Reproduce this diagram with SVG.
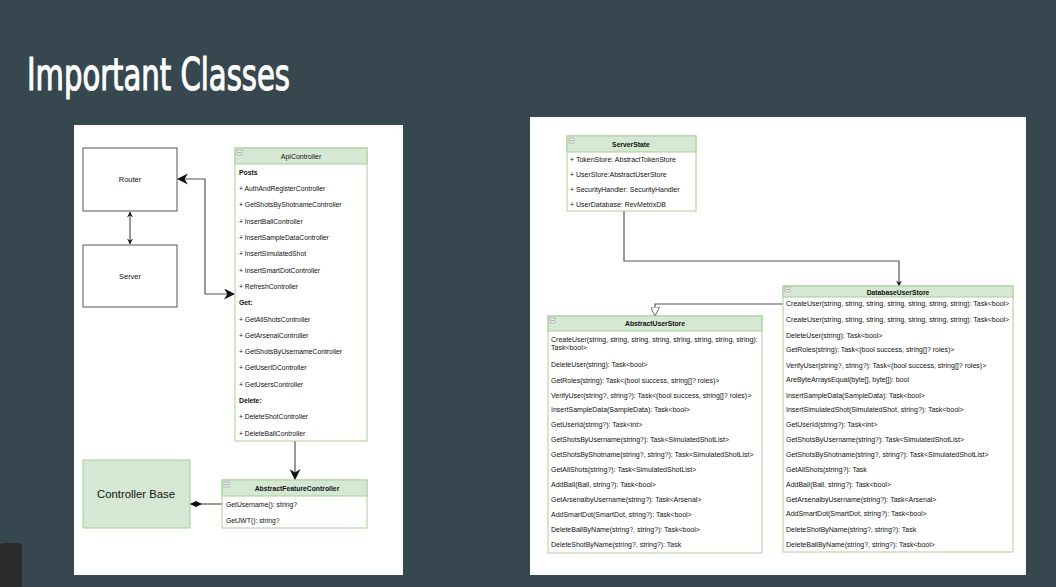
<svg xmlns="http://www.w3.org/2000/svg" width="1056" height="587" viewBox="0 0 1056 587">
<defs>
<style>
.t{font-family:"Liberation Sans",Arial,sans-serif;fill:#111;}
.r{font-size:6.8px;}
.r7{font-size:7px;}
.b{font-weight:bold;}
.hd{fill:#d5e8d4;stroke:#a9cf98;stroke-width:1;}
.bd{fill:#fff;stroke:#a9cf98;stroke-width:1;}
.bx{fill:#fff;stroke:#555;stroke-width:1;}
.ln{fill:none;stroke:#555;stroke-width:1.2;}
.ic{fill:#eee;stroke:#999;stroke-width:0.6;}
</style>
<marker id="ah" viewBox="0 0 10 10" refX="9" refY="5" markerWidth="8" markerHeight="8" markerUnits="userSpaceOnUse" orient="auto-start-reverse"><path d="M0,0 L10,5 L0,10 L3,5 Z" fill="#111"/></marker>
<marker id="ahb" viewBox="0 0 10 10" refX="9" refY="5" markerWidth="11" markerHeight="11" markerUnits="userSpaceOnUse" orient="auto-start-reverse"><path d="M0,0 L10,5 L0,10 L3,5 Z" fill="#111"/></marker>
<marker id="ahs" viewBox="0 0 10 10" refX="9" refY="5" markerWidth="6" markerHeight="6" markerUnits="userSpaceOnUse" orient="auto-start-reverse"><path d="M0,0 L10,5 L0,10 L3,5 Z" fill="#222"/></marker>
<marker id="tri" viewBox="0 0 10 10" refX="10" refY="5" markerWidth="10" markerHeight="9" markerUnits="userSpaceOnUse" orient="auto"><path d="M0,0 L10,5 L0,10 Z" fill="#fff" stroke="#555" stroke-width="1"/></marker>
<marker id="dia" viewBox="0 0 16 8" refX="16" refY="4" markerWidth="12" markerHeight="6" markerUnits="userSpaceOnUse" orient="auto"><path d="M0,4 L8,0 L16,4 L8,8 Z" fill="#111"/></marker>
</defs>
<rect width="1056" height="587" fill="#37474f"/>
<text x="27" y="90" font-family="'DejaVu Sans Condensed','DejaVu Sans',sans-serif" font-stretch="condensed" font-size="44" fill="#fff" stroke="#fff" stroke-width="1.1" textLength="263" lengthAdjust="spacingAndGlyphs">Important Classes</text>
<rect x="0" y="543" width="22" height="50" rx="4" fill="#2b2b2b"/>
<rect x="74" y="125" width="329" height="450" fill="#fff"/>
<rect x="530" y="117" width="496" height="458" fill="#fff"/>

<g id="connectors">
<path class="ln" d="M130,212 V244" marker-start="url(#ahs)" marker-end="url(#ahs)"/>
<path class="ln" d="M178,179 H205 V294 H234" marker-start="url(#ahb)" marker-end="url(#ahb)"/>
<path class="ln" d="M295,441 V479" marker-end="url(#ahb)"/>
<path class="ln" d="M222,504 H190" marker-end="url(#dia)"/>
<path class="ln" d="M624,211 V261 H899 V286" marker-end="url(#ahs)"/>
<path class="ln" d="M783,304 H655 V316" marker-end="url(#tri)"/>
</g>

<g id="router">
<rect class="bx" x="83" y="148" width="94" height="63"/>
<text class="t" x="130" y="182" font-size="7.5" text-anchor="middle">Router</text>
</g>
<g id="server">
<rect class="bx" x="83" y="245" width="94" height="62"/>
<text class="t" x="130" y="279" font-size="7.5" text-anchor="middle">Server</text>
</g>

<g id="apicontroller">
<rect class="bd" x="235" y="148" width="132" height="293"/>
<rect class="hd" x="235" y="148" width="132" height="16"/>
<rect class="ic" x="237" y="150" width="5" height="5"/><line x1="238" y1="152.5" x2="241" y2="152.5" stroke="#777" stroke-width="0.6"/>
<text class="t" x="301" y="158.5" font-size="7" text-anchor="middle">ApiController</text>
<g class="t r">
<text x="239" y="174.5" class="b">Posts</text>
<text x="239" y="191">+ AuthAndRegisterController</text>
<text x="239" y="207">+ GetShotsByShotnameController</text>
<text x="239" y="223.5">+ InsertBallController</text>
<text x="239" y="240">+ InsertSampleDataController</text>
<text x="239" y="256">+ InsertSimulatedShot</text>
<text x="239" y="272.5">+ InsertSmartDotController</text>
<text x="239" y="288.5">+ RefreshController</text>
<text x="239" y="305" class="b">Get:</text>
<text x="239" y="321.5">+ GetAllShotsController</text>
<text x="239" y="337.5">+ GetArsenalController</text>
<text x="239" y="354">+ GetShotsByUsernameController</text>
<text x="239" y="370">+ GetUserIDController</text>
<text x="239" y="386.5">+ GetUsersController</text>
<text x="239" y="402.5" class="b">Delete:</text>
<text x="239" y="419">+ DeleteShotController</text>
<text x="239" y="435.5">+ DeleteBallController</text>
</g>
</g>

<g id="controllerbase">
<rect x="83" y="460" width="107" height="68" fill="#d5e8d4" stroke="#a9cf98" stroke-width="1"/>
<text class="t" x="136" y="498" font-size="11.3" text-anchor="middle">Controller Base</text>
</g>

<g id="abstractfeaturecontroller">
<rect class="bd" x="222" y="480" width="145" height="48"/>
<rect class="hd" x="222" y="480" width="145" height="16"/>
<rect class="ic" x="224" y="482" width="5" height="5"/><line x1="225" y1="484.5" x2="228" y2="484.5" stroke="#777" stroke-width="0.6"/>
<text class="t r b" x="297" y="490.5" text-anchor="middle">AbstractFeatureController</text>
<text class="t r" x="226" y="506.5">GetUsername(): string?</text>
<text class="t r" x="226" y="522.5">GetJWT(): string?</text>
</g>

<g id="serverstate">
<rect class="bd" x="567" y="136" width="129" height="75"/>
<rect class="hd" x="567" y="136" width="129" height="16"/>
<rect class="ic" x="569" y="138" width="5" height="5"/><line x1="570" y1="140.5" x2="573" y2="140.5" stroke="#777" stroke-width="0.6"/>
<text class="t r b" x="631" y="146.5" text-anchor="middle">ServerState</text>
<g class="t r7">
<text x="570" y="162">+ TokenStore: AbstractTokenStore</text>
<text x="570" y="177">+ UserStore:AbstractUserStore</text>
<text x="570" y="192">+ SecurityHandler: SecurityHandler</text>
<text x="570" y="207">+ UserDatabase: RevMetrixDB</text>
</g>
</g>

<g id="abstractuserstore">
<rect class="bd" x="548" y="316" width="214" height="237"/>
<rect class="hd" x="548" y="316" width="214" height="15"/>
<rect class="ic" x="550" y="318" width="5" height="5"/><line x1="551" y1="320.5" x2="554" y2="320.5" stroke="#777" stroke-width="0.6"/>
<text class="t r b" x="655" y="326" text-anchor="middle">AbstractUserStore</text>
<g class="t r7">
<text x="551" y="342">CreateUser(string, string, string, string, string, string, string, string):</text>
<text x="551" y="350">Task&lt;bool&gt;</text>
<text x="551" y="366.5">DeleteUser(string): Task&lt;bool&gt;</text>
<text x="551" y="382.5">GetRoles(string): Task&lt;(bool success, string[]? roles)&gt;</text>
<text x="551" y="397.5">VerifyUser(string?, string?): Task&lt;(bool success, string[]? roles)&gt;</text>
<text x="551" y="411.5">InsertSampleData(SampleData): Task&lt;bool&gt;</text>
<text x="551" y="426.5">GetUserId(string?): Task&lt;int&gt;</text>
<text x="551" y="441.5">GetShotsByUsername(string?): Task&lt;SimulatedShotList&gt;</text>
<text x="551" y="456.5">GetShotsByShotname(string?, string?): Task&lt;SimulatedShotList&gt;</text>
<text x="551" y="471.5">GetAllShots(string?): Task&lt;SimulatedShotList&gt;</text>
<text x="551" y="486.5">AddBall(Ball, string?): Task&lt;bool&gt;</text>
<text x="551" y="501.5">GetArsenalbyUsername(string?): Task&lt;Arsenal&gt;</text>
<text x="551" y="516.5">AddSmartDot(SmartDot, string?): Task&lt;bool&gt;</text>
<text x="551" y="531.5">DeleteBallByName(string?, string?): Task&lt;bool&gt;</text>
<text x="551" y="546.5">DeleteShotByName(string?, string?): Task</text>
</g>
</g>

<g id="databaseuserstore">
<rect class="bd" x="783" y="286" width="230" height="266"/>
<rect class="hd" x="783" y="286" width="230" height="11"/>
<rect class="ic" x="785" y="287" width="5" height="5"/><line x1="786" y1="289.5" x2="789" y2="289.5" stroke="#777" stroke-width="0.6"/>
<text class="t r b" x="898" y="294.5" text-anchor="middle">DatabaseUserStore</text>
<g class="t r7">
<text x="786" y="305.5">CreateUser(string, string, string, string, string, string, string): Task&lt;bool&gt;</text>
<text x="786" y="321.5">CreateUser(string, string, string, string, string, string, string): Task&lt;bool&gt;</text>
<text x="786" y="337.5">DeleteUser(string): Task&lt;bool&gt;</text>
<text x="786" y="351.5">GetRoles(string): Task&lt;(bool success, string[]? roles)&gt;</text>
<text x="786" y="367.5">VerifyUser(string?, string?): Task&lt;(bool success, string[]? roles)&gt;</text>
<text x="786" y="381.5">AreByteArraysEqual(byte[], byte[]): bool</text>
<text x="786" y="397.5">InsertSampleData(SampleData): Task&lt;bool&gt;</text>
<text x="786" y="411.5">InsertSimulatedShot(SimulatedShot, string?): Task&lt;bool&gt;</text>
<text x="786" y="426.5">GetUserId(string?): Task&lt;int&gt;</text>
<text x="786" y="441.5">GetShotsByUsername(string?): Task&lt;SimulatedShotList&gt;</text>
<text x="786" y="456.5">GetShotsByShotname(string?, string?): Task&lt;SimulatedShotList&gt;</text>
<text x="786" y="471.5">GetAllShots(string?): Task</text>
<text x="786" y="486.5">AddBall(Ball, string?): Task&lt;bool&gt;</text>
<text x="786" y="501.5">GetArsenalbyUsername(string?): Task&lt;Arsenal&gt;</text>
<text x="786" y="515.5">AddSmartDot(SmartDot, string?): Task&lt;bool&gt;</text>
<text x="786" y="531.5">DeleteShotByName(string?, string?): Task</text>
<text x="786" y="546.5">DeleteBallByName(string?, string?): Task&lt;bool&gt;</text>
</g>
</g>
</svg>
